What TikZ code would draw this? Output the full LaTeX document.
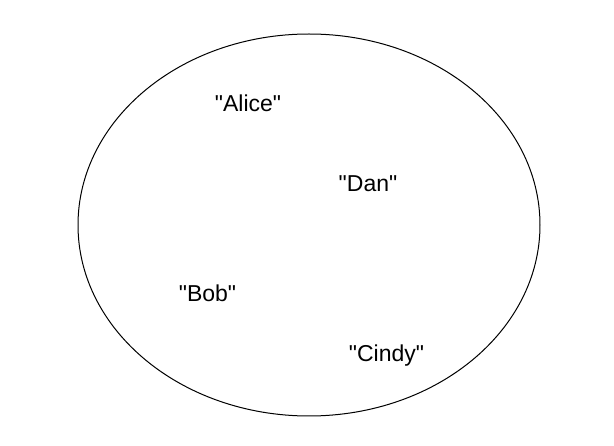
\documentclass[tikz,border=0pt]{standalone}
\usepackage{fontspec}
\newfontfamily\lblfont{Liberation Sans}[Ligatures=ResetAll]
\usetikzlibrary{shapes.geometric}
\begin{document}
\begin{tikzpicture}[x=1pt,y=-1pt,
  lbl/.style={anchor=base,inner sep=0pt,font=\lblfont\fontsize{23}{27}\selectfont}]
\useasboundingbox (0,0) rectangle (614,446);
\node[draw,ellipse,line width=1pt,minimum width=462pt,minimum height=382pt,inner sep=0pt] (set) at (309,225) {};
\node[lbl] (alice) at (248,112) {"Alice"};
\node[lbl] (dan) at (368,192) {"Dan"};
\node[lbl] (bob) at (207.5,302) {"Bob"};
\node[lbl] (cindy) at (386.5,362) {"Cindy"};
\end{tikzpicture}
\end{document}
